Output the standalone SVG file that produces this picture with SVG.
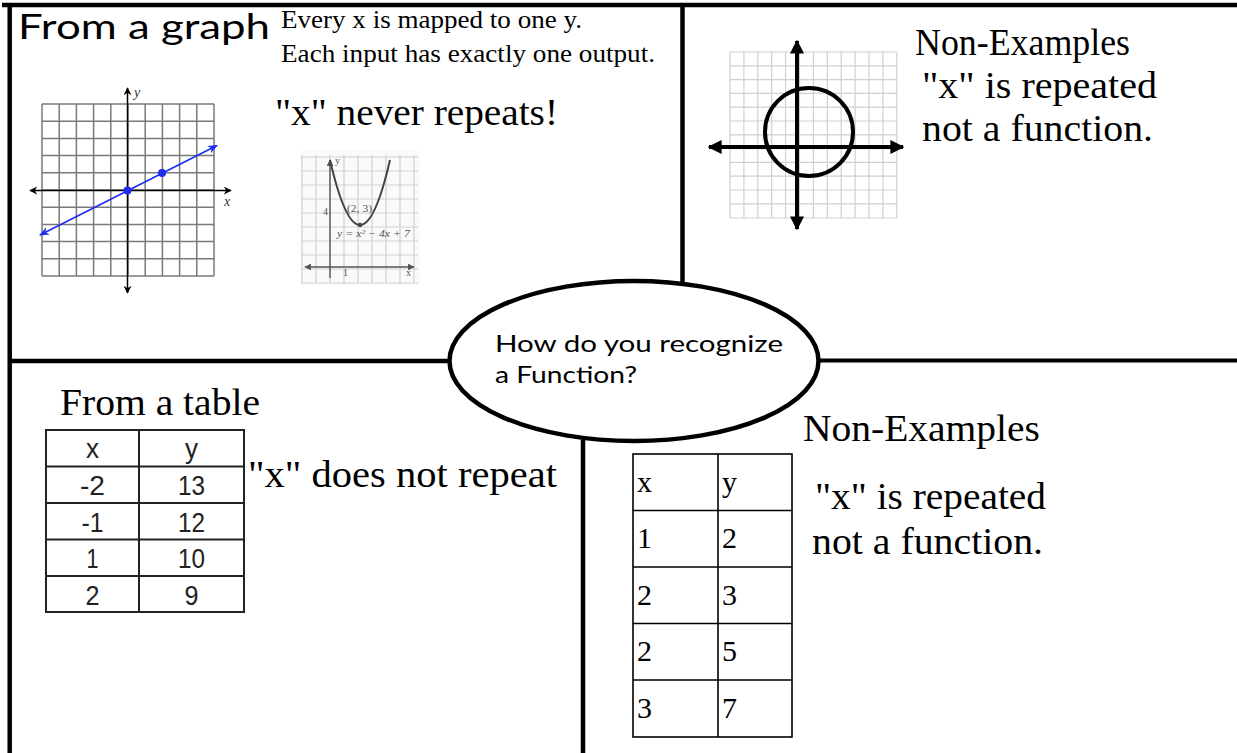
<svg xmlns="http://www.w3.org/2000/svg" width="1237" height="753" viewBox="0 0 1237 753">
<style>
.frame{stroke:#000;stroke-width:4.5;fill:none}
.serif{font-family:"Liberation Serif","Times New Roman",serif;fill:#000}
.sans{font-family:Lato,"Open Sans","DejaVu Sans",sans-serif;fill:#000}
.arial{font-family:"Liberation Sans",Arial,sans-serif;fill:#222;font-size:28px;text-anchor:middle}
.grid1{stroke:#7a7a7a;stroke-width:1.5;fill:none}
.gridl{stroke:#d0d0d0;stroke-width:1.2;fill:none}
.tbl1{stroke:#222;stroke-width:2;fill:none}
.tbl2{stroke:#000;stroke-width:1.6;fill:none}
</style>
<defs>
<marker id="ab" viewBox="0 0 10 10" refX="9" refY="5" markerWidth="8" markerHeight="8" markerUnits="userSpaceOnUse" orient="auto-start-reverse"><path d="M0,0 L10,5 L0,10 L3,5 Z" fill="#000"/></marker>
<marker id="ablue" viewBox="0 0 10 10" refX="9" refY="5" markerWidth="10" markerHeight="10" markerUnits="userSpaceOnUse" orient="auto-start-reverse"><path d="M0,1 L10,5 L0,9 L3,5 Z" fill="#1f2cf0"/></marker>
<marker id="abig" viewBox="0 0 10 10" refX="9" refY="5" markerWidth="14" markerHeight="14" markerUnits="userSpaceOnUse" orient="auto-start-reverse"><path d="M0,0 L10,5 L0,10 Z" fill="#000"/></marker>
<marker id="agray" viewBox="0 0 10 10" refX="9" refY="5" markerWidth="7" markerHeight="7" markerUnits="userSpaceOnUse" orient="auto-start-reverse"><path d="M0,0 L10,5 L0,10 Z" fill="#555"/></marker>
</defs>
<rect width="1237" height="753" fill="#fff"/>

<g id="connectors">
<line class="frame" x1="2" y1="5" x2="1237" y2="5"/>
<line class="frame" x1="9.7" y1="3" x2="9.7" y2="753"/>
<line class="frame" x1="682.5" y1="5" x2="682.5" y2="282"/>
<line class="frame" x1="9.7" y1="361" x2="450" y2="361"/>
<line class="frame" x1="818" y1="360.5" x2="1237" y2="360.5" style="stroke-width:4"/>
<line class="frame" x1="583" y1="440" x2="583" y2="753"/>
</g>

<g id="center">
<ellipse cx="634" cy="361" rx="184.5" ry="80" fill="#fff" stroke="#000" stroke-width="4.5"/>
<text class="sans" x="495" y="352" font-size="24" textLength="288" lengthAdjust="spacingAndGlyphs">How do you recognize</text>
<text class="sans" x="495" y="383" font-size="24" textLength="142" lengthAdjust="spacingAndGlyphs">a Function?</text>
</g>

<g id="graph-section">
<text class="sans" x="18" y="39" font-size="34" textLength="252" lengthAdjust="spacingAndGlyphs">From a graph</text>
<text class="serif" x="281" y="28" font-size="25" textLength="301" lengthAdjust="spacingAndGlyphs">Every x is mapped to one y.</text>
<text class="serif" x="281" y="62" font-size="25" textLength="374" lengthAdjust="spacingAndGlyphs">Each input has exactly one output.</text>
<text class="serif" x="275" y="125" font-size="37" textLength="283" lengthAdjust="spacingAndGlyphs">"x" never repeats!</text>
</g>

<g id="line-graph">
<path class="grid1" d="M42,104 H214 M42,121.2 H214 M42,138.4 H214 M42,155.6 H214 M42,172.8 H214 M42,190 H214 M42,207.2 H214 M42,224.4 H214 M42,241.6 H214 M42,258.8 H214 M42,276 H214 M42,104 V276 M59.2,104 V276 M76.4,104 V276 M93.6,104 V276 M110.8,104 V276 M128,104 V276 M145.2,104 V276 M162.4,104 V276 M179.6,104 V276 M196.8,104 V276 M214,104 V276"/>
<line x1="30" y1="190.5" x2="231" y2="190.5" stroke="#000" stroke-width="1.5" marker-start="url(#ab)" marker-end="url(#ab)"/>
<line x1="127.5" y1="88" x2="127.5" y2="293" stroke="#000" stroke-width="1.5" marker-start="url(#ab)" marker-end="url(#ab)"/>
<text x="134" y="97" font-family="Liberation Serif,serif" font-style="italic" font-size="14" fill="#333">y</text>
<text x="224" y="206" font-family="Liberation Serif,serif" font-style="italic" font-size="14" fill="#333">x</text>
<line x1="40" y1="235" x2="217" y2="145.5" stroke="#1f2cf0" stroke-width="1.6" marker-start="url(#ablue)" marker-end="url(#ablue)"/>
<circle cx="127.5" cy="190.5" r="4" fill="#1f2cf0"/>
<circle cx="162" cy="173" r="4" fill="#1f2cf0"/>
</g>

<g id="parabola-graph">
<rect x="300" y="150" width="120" height="136" fill="#fafafa"/>
<path class="gridl" d="M302,155 V283 M316,155 V283 M330,155 V283 M344,155 V283 M358,155 V283 M372,155 V283 M386,155 V283 M400,155 V283 M414,155 V283 M302,157 H418 M302,171 H418 M302,185 H418 M302,199 H418 M302,213 H418 M302,227 H418 M302,241 H418 M302,255 H418 M302,269 H418 M302,283 H418"/>
<line x1="330" y1="160" x2="330" y2="278" stroke="#555" stroke-width="1.4" marker-start="url(#agray)"/>
<line x1="305" y1="267" x2="414" y2="267" stroke="#555" stroke-width="1.4" marker-start="url(#agray)" marker-end="url(#agray)"/>
<path d="M330,160 Q360,290 390,160" fill="none" stroke="#444" stroke-width="2"/>
<circle cx="360" cy="225" r="2.2" fill="#444"/>
<g font-family="Liberation Serif,serif" font-size="10" fill="#555">
<text x="335" y="164">y</text>
<text x="323" y="215">4</text>
<text x="347" y="212" textLength="25" lengthAdjust="spacingAndGlyphs">(2, 3)</text>
<text x="337" y="237" font-style="italic" textLength="73" lengthAdjust="spacingAndGlyphs">y = x² − 4x + 7</text>
<text x="343" y="276">1</text>
<text x="406" y="276">x</text>
</g>
</g>

<g id="nonexample-graph">
<path class="gridl" d="M730,52 V218 M743.9,52 V218 M757.8,52 V218 M771.7,52 V218 M785.6,52 V218 M799.5,52 V218 M813.4,52 V218 M827.3,52 V218 M841.2,52 V218 M855.1,52 V218 M869,52 V218 M882.9,52 V218 M896.8,52 V218 M730,52 H897 M730,65.8 H897 M730,79.6 H897 M730,93.4 H897 M730,107.2 H897 M730,121 H897 M730,134.8 H897 M730,148.6 H897 M730,162.4 H897 M730,176.2 H897 M730,190 H897 M730,203.8 H897 M730,218 H897"/>
<line x1="797" y1="41" x2="797" y2="229" stroke="#000" stroke-width="4" marker-start="url(#abig)" marker-end="url(#abig)"/>
<line x1="709" y1="147" x2="903" y2="147" stroke="#000" stroke-width="4" marker-start="url(#abig)" marker-end="url(#abig)"/>
<circle cx="809" cy="132" r="44" fill="none" stroke="#000" stroke-width="4"/>
</g>

<g id="nonexample-graph-text">
<text class="serif" x="915" y="55" font-size="37" textLength="215" lengthAdjust="spacingAndGlyphs">Non-Examples</text>
<text class="serif" x="922" y="98" font-size="37" textLength="235" lengthAdjust="spacingAndGlyphs">"x" is repeated</text>
<text class="serif" x="922" y="141" font-size="37" textLength="231" lengthAdjust="spacingAndGlyphs">not a function.</text>
</g>

<g id="table-section">
<text class="serif" x="60" y="415" font-size="37" textLength="200" lengthAdjust="spacingAndGlyphs">From a table</text>
<text class="serif" x="248" y="487" font-size="37" textLength="309" lengthAdjust="spacingAndGlyphs">"x" does not repeat</text>
<rect class="tbl1" x="46" y="430" width="198" height="182"/>
<path class="tbl1" d="M139,430 V612 M46,466.5 H244 M46,503 H244 M46,539.5 H244 M46,576 H244"/>
<text class="arial" x="92.5" y="458" textLength="13" lengthAdjust="spacingAndGlyphs">x</text><text class="arial" x="191.5" y="458" textLength="13" lengthAdjust="spacingAndGlyphs">y</text>
<text class="arial" x="92.5" y="495" textLength="25" lengthAdjust="spacingAndGlyphs">-2</text><text class="arial" x="191.5" y="495" textLength="27" lengthAdjust="spacingAndGlyphs">13</text>
<text class="arial" x="92.5" y="531.5" textLength="22" lengthAdjust="spacingAndGlyphs">-1</text><text class="arial" x="191.5" y="531.5" textLength="27" lengthAdjust="spacingAndGlyphs">12</text>
<text class="arial" x="92.5" y="568" textLength="12" lengthAdjust="spacingAndGlyphs">1</text><text class="arial" x="191.5" y="568" textLength="27" lengthAdjust="spacingAndGlyphs">10</text>
<text class="arial" x="92.5" y="604.5" textLength="14" lengthAdjust="spacingAndGlyphs">2</text><text class="arial" x="191.5" y="604.5" textLength="14" lengthAdjust="spacingAndGlyphs">9</text>
</g>

<g id="nonexample-table">
<text class="serif" x="803" y="441" font-size="37" textLength="237" lengthAdjust="spacingAndGlyphs">Non-Examples</text>
<text class="serif" x="815" y="509" font-size="37" textLength="231" lengthAdjust="spacingAndGlyphs">"x" is repeated</text>
<text class="serif" x="812" y="554" font-size="37" textLength="231" lengthAdjust="spacingAndGlyphs">not a function.</text>
<rect class="tbl2" x="633" y="454" width="159" height="283"/>
<path class="tbl2" d="M718,454 V737 M633,510.5 H792 M633,567 H792 M633,623.5 H792 M633,680 H792"/>
<g class="serif" font-size="30">
<text x="637" y="492">x</text><text x="722" y="492">y</text>
<text x="637" y="548">1</text><text x="722" y="548">2</text>
<text x="637" y="604.5">2</text><text x="722" y="604.5">3</text>
<text x="637" y="661">2</text><text x="722" y="661">5</text>
<text x="637" y="717.5">3</text><text x="722" y="717.5">7</text>
</g>
</g>
</svg>
